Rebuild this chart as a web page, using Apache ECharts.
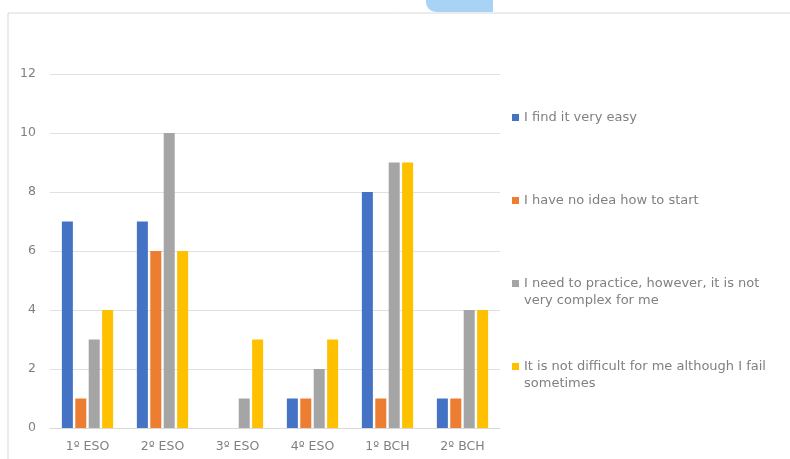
<!DOCTYPE html>
<html>
<head>
<meta charset="utf-8">
<script src="https://cdn.jsdelivr.net/npm/echarts@6/dist/echarts.min.js"></script>
<style>
  html, body { margin: 0; padding: 0; background: #ffffff; }
  #chart { width: 790px; height: 459px; }
</style>
</head>
<body>
<div id="chart"></div>
<script>
// Courses surveyed
const categories = ['1º ESO', '2º ESO', '3º ESO', '4º ESO', '1º BCH', '2º BCH'];

// Answer counts per course
const veryEasy = [7, 7, 0, 1, 8, 1];
const noIdea = [1, 6, 0, 1, 1, 1];
const needPractice = [3, 10, 1, 2, 9, 4];
const notDifficult = [4, 6, 3, 3, 9, 4];

const seriesNames = [
  'I find it very easy',
  'I have no idea how to start',
  'I need to practice, however, it is not very complex for me',
  'It is not difficult for me although I fail sometimes'
];
const seriesData = [veryEasy, noIdea, needPractice, notDifficult];
const colors = ['#4472C4', '#ED7D31', '#A5A5A5', '#FFC000'];

const yTicks = { min: 0, max: 12, interval: 2 };

const textColor = '#808080';
const font = 'DejaVu Sans';

const legendTops = [104, 187, 270, 353];
// Two-line entries keep their marker beside the first line:
// a tall icon box whose filled square sits at the top.
const twoLine = [false, false, true, true];
const topSquareIcon = 'path://M0,0h7v7h-7z M0,24h0.01v0.01h-0.01z';

const chart = echarts.init(document.getElementById('chart'));
chart.setOption({
  animation: false,
  color: colors,
  textStyle: { fontFamily: font },
  grid: { left: 50, right: 290, top: 74, bottom: 31 },
  graphic: [
    {
      type: 'rect',
      shape: { x: 8, y: 13, width: 790, height: 460 },
      style: { fill: 'none', stroke: '#d9d9d9', lineWidth: 1 }
    },
    {
      type: 'rect',
      shape: { x: 426, y: 0, width: 67, height: 12, r: [0, 0, 0, 10] },
      style: { fill: '#a9d3f5' }
    }
  ],
  legend: seriesNames.map((name, i) => ({
    data: [{ name: name, icon: twoLine[i] ? topSquareIcon : 'rect' }],
    orient: 'vertical',
    left: 507,
    top: legendTops[i],
    itemWidth: 7,
    itemHeight: twoLine[i] ? 24 : 7,
    itemGap: 4,
    textStyle: {
      color: textColor,
      fontSize: 13,
      fontFamily: font,
      width: 262,
      overflow: 'break',
      lineHeight: 17
    }
  })),
  xAxis: {
    type: 'category',
    data: categories,
    axisLine: { lineStyle: { color: '#d9d9d9' } },
    axisTick: { show: false },
    axisLabel: { color: textColor, fontSize: 12.5, margin: 12 }
  },
  yAxis: {
    type: 'value',
    min: yTicks.min,
    max: yTicks.max,
    interval: yTicks.interval,
    axisLine: { show: false },
    axisTick: { show: false },
    axisLabel: { color: textColor, fontSize: 12.5, margin: 14 },
    splitLine: { lineStyle: { color: '#e0e0e0' } }
  },
  series: seriesNames.map((name, i) => ({
    name: name,
    type: 'bar',
    data: seriesData[i],
    barWidth: 11,
    barGap: '22%',
    barCategoryGap: '33%'
  }))
});
</script>
</body>
</html>
